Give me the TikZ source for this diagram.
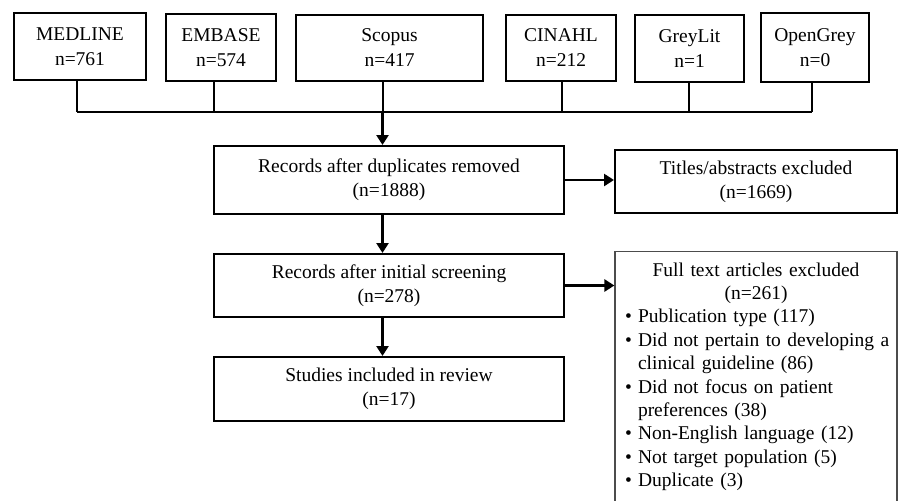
\documentclass[tikz,border=0pt]{standalone}
\usepackage{fontspec}
\setmainfont{Liberation Serif}
\usepackage{enumitem}
\usetikzlibrary{arrows.meta}

\begin{document}
\begin{tikzpicture}[x=1pt,y=-1pt]
\tikzstyle{src}=[draw,line width=1.8pt,align=center,inner sep=0pt,font=\fontsize{19.5}{25}\selectfont]
\tikzstyle{srcbold}=[src,line width=2.6pt]
\tikzstyle{stage}=[draw,line width=2pt,align=center,inner sep=0pt,minimum width=350pt,font=\fontsize{19.5}{24}\selectfont]
\tikzstyle{excl}=[stage,minimum width=282pt]
\tikzstyle{drop}=[line width=1.8pt]
\tikzstyle{flow}=[line width=2.5pt,-{Triangle[length=10pt,width=12pt]}]
\useasboundingbox (0,0) rectangle (898,501);
% databases
\node[srcbold,minimum width=132pt,minimum height=67pt] (medline) at (80,46.5) {MEDLINE\\n=761};
\node[src,minimum width=110pt,minimum height=67pt] (embase) at (221,47.5) {EMBASE\\n=574};
\node[src,minimum width=187pt,minimum height=66pt] (scopus) at (389.5,48) {Scopus\\n=417};
\node[src,minimum width=110pt,minimum height=66pt] (cinahl) at (561,48) {CINAHL\\n=212};
\node[srcbold,minimum width=109pt,minimum height=67pt] (greylit) at (689.5,48.5) {GreyLit\\n=1};
\node[srcbold,minimum width=108pt,minimum height=69pt] (opengrey) at (815,47.5) {OpenGrey\\n=0};
% screening stages
\node[stage,minimum height=68pt] (dup) at (389,180) {Records after duplicates removed\\(n=1888)};
\node[excl,minimum height=63pt] (titles) at (756,181.5) {Titles/abstracts excluded\\(n=1669)};
\node[stage,minimum height=63pt] (screen) at (389,285.5) {Records after initial screening\\(n=278)};
\node[stage,minimum height=64pt] (incl) at (389,389) {Studies included in review\\(n=17)};
\node[draw=black!70,line width=1.2pt,anchor=north,text width=282pt,inner xsep=0pt,inner ysep=11pt,text depth=225pt,font=\fontsize{19.5}{23.4}\selectfont] (fulltext) at (756,251) {%
  \centering Full text articles excluded\\(n=261)\par
  \raggedright
  \begin{itemize}[leftmargin=23pt,labelsep=6pt,itemsep=0pt,topsep=0pt,parsep=0pt,partopsep=0pt]
  \item Publication type (117)
  \item Did not pertain to developing a\newline clinical guideline (86)
  \item Did not focus on patient\newline preferences (38)
  \item Non-English language (12)
  \item Not target population (5)
  \item Duplicate (3)
  \end{itemize}};
% bus line and spine
\coordinate (busL) at (77,112);
\coordinate (busR) at (812,112);
\coordinate (spine) at (382.5,112);
\draw[line width=2pt] (busL) -- (busR);
\foreach \db/\dx in {medline/-3,embase/-7,scopus/-6.5,cinahl/1,greylit/-0.5,opengrey/-3}
  \draw[drop] ([xshift=\dx pt]\db.south) -- ([xshift=\dx pt]\db.south |- busL);
\draw[flow] (spine) -- (spine |- dup.north);
\draw[flow] (dup.south -| spine) -- (screen.north -| spine);
\draw[flow] (screen.south -| spine) -- (incl.north -| spine);
\draw[flow] (dup.east) -- (titles.west |- dup.east);
\draw[flow] (screen.east) -- (fulltext.west |- screen.east);
\end{tikzpicture}
\end{document}
